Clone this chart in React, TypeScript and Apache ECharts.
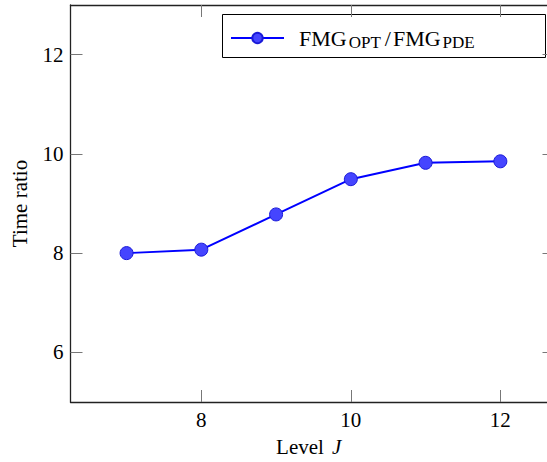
import React, { useEffect, useRef } from "react";
import * as echarts from "echarts";

const levels = [7, 8, 9, 10, 11, 12];
const timeRatio = [8.0, 8.07, 8.78, 9.49, 9.82, 9.85];
const xTicks = [8, 10, 12];
const yTicks = [6, 8, 10, 12];
const seriesName = "FMG_OPT/FMG_PDE";

const FONT = "'Liberation Serif', 'DejaVu Serif', serif";

export default function App() {
  const ref = useRef<HTMLDivElement>(null);
  useEffect(() => {
    if (!ref.current) return;
    const chart = echarts.init(ref.current, null, { renderer: "svg" });
    const data = levels.map((l, i) => [l, timeRatio[i]]);
    const tickStyle = { color: "#777", width: 1 };
    const lineStyle = { color: "#222", width: 1.3 };
    const xMin = 6.25;
    const xMax = 12.624;
    chart.setOption({
      animation: false,
      backgroundColor: "#fff",
      textStyle: { fontFamily: FONT },
      grid: { left: 70.5, top: 5, bottom: 58, right: 0, containLabel: false },
      xAxis: [
        {
          type: "value",
          position: "bottom",
          min: xMin,
          max: xMax,
          splitLine: { show: false },
          axisLine: { show: true, onZero: false, lineStyle },
          axisTick: { show: true, inside: true, length: 12, customValues: xTicks, lineStyle: tickStyle },
          axisLabel: { customValues: xTicks, color: "#000", fontSize: 21, fontFamily: FONT, margin: 7 },
          name: "Level {i|J}",
          nameLocation: "middle",
          nameGap: 34,
          nameTextStyle: {
            color: "#000",
            fontSize: 21,
            fontFamily: FONT,
            rich: { i: { fontStyle: "italic", fontSize: 21, fontFamily: FONT, color: "#000", padding: [0, 0, 0, 3] } },
          },
        },
        {
          type: "value",
          position: "top",
          min: xMin,
          max: xMax,
          splitLine: { show: false },
          axisLine: { show: true, onZero: false, lineStyle },
          axisTick: { show: true, inside: true, length: 12, customValues: xTicks, lineStyle: tickStyle },
          axisLabel: { show: false },
        },
      ],
      yAxis: [
        {
          type: "value",
          position: "left",
          min: 5,
          max: 13,
          splitLine: { show: false },
          axisLine: { show: true, onZero: false, lineStyle },
          axisTick: { show: true, inside: true, length: 12, customValues: yTicks, lineStyle: tickStyle },
          axisLabel: { customValues: yTicks, color: "#000", fontSize: 21, fontFamily: FONT, margin: 7 },
          name: "Time ratio",
          nameLocation: "middle",
          nameGap: 40,
          nameTextStyle: { color: "#000", fontSize: 21, fontFamily: FONT },
        },
        {
          type: "value",
          position: "right",
          min: 5,
          max: 13,
          splitLine: { show: false },
          axisLine: { show: false },
          axisTick: { show: true, inside: true, length: 4.5, customValues: yTicks, lineStyle: tickStyle },
          axisLabel: { show: false },
        },
      ],
      legend: {
        left: 230,
        top: 27,
        padding: 0,
        itemWidth: 53,
        itemHeight: 13,
        itemGap: 0,
        data: [seriesName],
        formatter: () => "{a|FMG}{s|OPT}{b|/}{a|FMG}{s|PDE}",
        textStyle: {
          padding: [0, 0, 0, 10],
          rich: {
            a: { fontSize: 22, fontFamily: FONT, color: "#000", lineHeight: 22, verticalAlign: "middle" },
            b: { fontSize: 22, fontFamily: FONT, color: "#000", lineHeight: 22, verticalAlign: "middle", padding: [0, 2, 0, 2] },
            s: { fontSize: 17, fontFamily: FONT, color: "#000", padding: [9, 2, 0, 2], verticalAlign: "middle" },
          },
        },
      },
      graphic: [
        {
          type: "rect",
          shape: { x: 222.5, y: 14.5, width: 323, height: 43 },
          style: { fill: "#fff", stroke: "#000", lineWidth: 1 },
          z: 0,
          zlevel: 0,
        },
      ],
      series: [
        {
          name: seriesName,
          type: "line",
          xAxisIndex: 0,
          yAxisIndex: 0,
          data,
          symbol: "circle",
          symbolSize: 13,
          lineStyle: { color: "#0000ff", width: 2 },
          itemStyle: { color: "#4545ff", borderColor: "#1a1ad8", borderWidth: 1 },
          z: 5,
        },
      ],
    });
    return () => chart.dispose();
  }, []);
  return (
    <div
      ref={ref}
      style={{ position: "fixed", left: 0, top: 0, width: 547, height: 462, background: "#fff" }}
    />
  );
}
